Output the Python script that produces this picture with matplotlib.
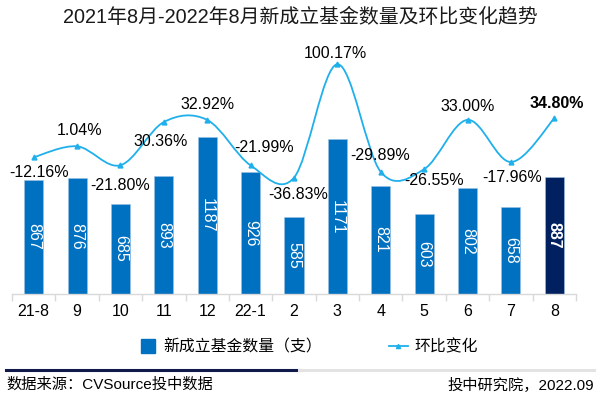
import numpy as np
import matplotlib
matplotlib.use("Agg")
import matplotlib.pyplot as plt
from matplotlib.path import Path
from matplotlib.patches import PathPatch
from matplotlib.lines import Line2D

plt.rcParams['font.family'] = ['Liberation Sans', 'Noto Sans CJK SC']

months = ['21-8', '9', '10', '11', '12', '22-1', '2', '3', '4', '5', '6', '7', '8']
fund_counts = [867, 876, 685, 893, 1187, 926, 585, 1171, 821, 603, 802, 658, 887]
mom_change = [-12.16, 1.04, -21.80, 30.36, 32.92, -21.99, -36.83, 100.17, -29.89, -26.55, 33.00, -17.96, 34.80]

# label offsets in pixels (dx, dy), purely layout
label_offsets = [(5, -15), (2, 16), (0, -20), (-3, -19), (0, 15), (13, 18), (4, -17),
                 (-2, 11), (-1, 16), (10, -11), (0, 13), (1, -15), (2, 15)]

bar_blue = '#0070C0'
bar_navy = '#002060'
line_blue = '#1FB0EC'

fig = plt.figure(figsize=(6, 4.01), dpi=100)
ax = fig.add_axes([0.02, 0.2668, 0.94, 0.6085])
x = np.arange(len(months))
n = len(months)
colors = [bar_blue] * (n - 1) + [bar_navy]
bars = ax.bar(x, fund_counts, width=0.44, color=colors, edgecolor='#9DC3E6', linewidth=0.4, zorder=2)
for i, b in enumerate(bars):
    ax.text(b.get_x() + b.get_width() / 2, b.get_height() / 2, str(fund_counts[i]),
            rotation=-90, ha='center', va='center', color='white', fontsize=11.5,
            fontweight='bold' if i == n - 1 else 'normal', zorder=3)
ax.set_xlim(-0.5, n - 0.5)
ax.set_ylim(0, 1848)
ax.set_yticks([])
for s in ['top', 'right', 'left']:
    ax.spines[s].set_visible(False)
ax.spines['bottom'].set_color('#D9D9D9')
ax.spines['bottom'].set_linewidth(1)
ax.set_xticks(x)
ax.set_xticklabels(months, fontsize=11.5)
ax.tick_params(axis='x', which='major', length=0, pad=7)
ax.set_xticks(np.arange(-0.5, n, 1), minor=True)
ax.tick_params(axis='x', which='minor', length=5, color='#D9D9D9', width=1)

ax2 = ax.twinx()
ax2.set_ylim(-177.4, 117.4)
ax2.set_yticks([])
for s in ax2.spines.values():
    s.set_visible(False)

# smooth line (Bezier through the points, like a spreadsheet smoothed line)
pts = np.column_stack([x, mom_change]).astype(float)
verts = [tuple(pts[0])]
codes = [Path.MOVETO]
for i in range(n - 1):
    p0 = pts[i - 1] if i > 0 else pts[i]
    p1 = pts[i]
    p2 = pts[i + 1]
    p3 = pts[i + 2] if i + 2 < n else pts[i + 1]
    c1 = p1 + (p2 - p0) / 6.0
    c2 = p2 - (p3 - p1) / 6.0
    verts += [tuple(c1), tuple(c2), tuple(p2)]
    codes += [Path.CURVE4] * 3
ax2.add_patch(PathPatch(Path(verts, codes), facecolor='none', edgecolor=line_blue, lw=1.3, zorder=3))
ax2.plot(x, mom_change, ls='', marker='^', markersize=3.5, color=line_blue, zorder=4)

for i, v in enumerate(mom_change):
    dx, dy = label_offsets[i]
    ax2.annotate(f'{v:.2f}%', (x[i], v), xytext=(dx * 0.72, dy * 0.72), textcoords='offset points',
                 ha='center', va='center', fontsize=11.5, color='black',
                 fontweight='bold' if i == n - 1 else 'normal')

fig.text(0.5, 0.9576, '2021年8月-2022年8月新成立基金数量及环比变化趋势',
         ha='center', va='center', fontsize=14.3, color='#1a1a1a')

handles = [Line2D([], [], ls='', marker='s', markersize=10, color=bar_blue),
           Line2D([], [], color=line_blue, marker='^', markersize=3, lw=1.3)]
fig.legend(handles, ['新成立基金数量（支）', '环比变化'], loc='center',
           bbox_to_anchor=(0.513, 0.1347), ncol=2, frameon=False, fontsize=11.4,
           handlelength=1.2, handletextpad=0.4, columnspacing=4.2)

fig.add_artist(Line2D([0.01, 0.498], [0.0783, 0.0783], color='#0F1A4A', lw=2.2))
fig.add_artist(Line2D([0.498, 0.99], [0.0783, 0.0783], color='#E3E3E3', lw=2.2))
fig.text(0.01, 0.04, '数据来源：CVSource投中数据', ha='left', va='center', fontsize=11, color='black')
fig.text(0.99, 0.04, '投中研究院，2022.09', ha='right', va='center', fontsize=11, color='black')

fig.savefig('out.png', dpi=100)
